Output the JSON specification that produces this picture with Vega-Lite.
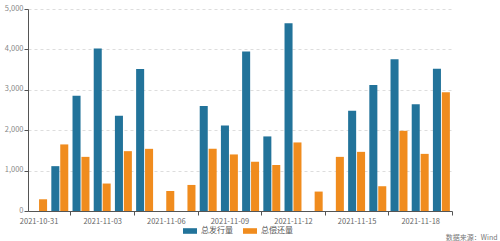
{
  "$schema": "https://vega.github.io/schema/vega-lite/v6.json",
  "autosize": "none",
  "width": 424,
  "height": 202,
  "padding": {"left": 28, "top": 9, "right": 48, "bottom": 30},
  "background": "white",
  "config": {
    "font": "Noto Sans CJK SC",
    "view": {"stroke": null}
  },
  "data": {
    "values": [
      {"date": "2021-10-31", "series": "总偿还量", "value": 290},
      {"date": "2021-11-01", "series": "总发行量", "value": 1110},
      {"date": "2021-11-01", "series": "总偿还量", "value": 1648},
      {"date": "2021-11-02", "series": "总发行量", "value": 2854},
      {"date": "2021-11-02", "series": "总偿还量", "value": 1340},
      {"date": "2021-11-03", "series": "总发行量", "value": 4020},
      {"date": "2021-11-03", "series": "总偿还量", "value": 680},
      {"date": "2021-11-04", "series": "总发行量", "value": 2357},
      {"date": "2021-11-04", "series": "总偿还量", "value": 1481},
      {"date": "2021-11-05", "series": "总发行量", "value": 3516},
      {"date": "2021-11-05", "series": "总偿还量", "value": 1539},
      {"date": "2021-11-06", "series": "总偿还量", "value": 496},
      {"date": "2021-11-07", "series": "总偿还量", "value": 645},
      {"date": "2021-11-08", "series": "总发行量", "value": 2598},
      {"date": "2021-11-08", "series": "总偿还量", "value": 1539},
      {"date": "2021-11-09", "series": "总发行量", "value": 2119},
      {"date": "2021-11-09", "series": "总偿还量", "value": 1400},
      {"date": "2021-11-10", "series": "总发行量", "value": 3946},
      {"date": "2021-11-10", "series": "总偿还量", "value": 1216},
      {"date": "2021-11-11", "series": "总发行量", "value": 1846},
      {"date": "2021-11-11", "series": "总偿还量", "value": 1141},
      {"date": "2021-11-12", "series": "总发行量", "value": 4650},
      {"date": "2021-11-12", "series": "总偿还量", "value": 1697},
      {"date": "2021-11-13", "series": "总偿还量", "value": 481},
      {"date": "2021-11-14", "series": "总偿还量", "value": 1340},
      {"date": "2021-11-15", "series": "总发行量", "value": 2481},
      {"date": "2021-11-15", "series": "总偿还量", "value": 1464},
      {"date": "2021-11-16", "series": "总发行量", "value": 3119},
      {"date": "2021-11-16", "series": "总偿还量", "value": 613},
      {"date": "2021-11-17", "series": "总发行量", "value": 3757},
      {"date": "2021-11-17", "series": "总偿还量", "value": 1985},
      {"date": "2021-11-18", "series": "总发行量", "value": 2640},
      {"date": "2021-11-18", "series": "总偿还量", "value": 1414},
      {"date": "2021-11-19", "series": "总发行量", "value": 3524},
      {"date": "2021-11-19", "series": "总偿还量", "value": 2938}
    ]
  },
  "mark": {"type": "bar"},
  "encoding": {
    "x": {
      "field": "date",
      "type": "nominal",
      "sort": null,
      "scale": {
        "domain": ["2021-10-31","2021-11-01","2021-11-02","2021-11-03","2021-11-04","2021-11-05","2021-11-06","2021-11-07","2021-11-08","2021-11-09","2021-11-10","2021-11-11","2021-11-12","2021-11-13","2021-11-14","2021-11-15","2021-11-16","2021-11-17","2021-11-18","2021-11-19"],
        "paddingInner": 0.2,
        "paddingOuter": 0.1
      },
      "axis": {
        "values": ["2021-10-31","2021-11-03","2021-11-06","2021-11-09","2021-11-12","2021-11-15","2021-11-18"],
        "labelAngle": 0,
        "labelFontSize": 7.5,
        "labelColor": "#666666",
        "labelPadding": 2,
        "tickOffset": 31.8,
        "labelOffset": -31.8,
        "tickSize": 4,
        "tickColor": "#555555",
        "domainColor": "#555555",
        "title": "数据来源：Wind",
        "titleFontSize": 7,
        "titleFontWeight": "normal",
        "titleColor": "#777777",
        "titleAlign": "right",
        "titleAnchor": "end",
        "titleX": 469,
        "titleY": 28,
        "titleBaseline": "alphabetic"
      }
    },
    "xOffset": {
      "field": "series",
      "type": "nominal",
      "scale": {"domain": ["总发行量", "总偿还量"], "paddingInner": 0.1, "paddingOuter": 0}
    },
    "y": {
      "field": "value",
      "type": "quantitative",
      "scale": {"domain": [0, 5000], "nice": false},
      "axis": {
        "values": [0, 1000, 2000, 3000, 4000, 5000],
        "format": ",.0f",
        "title": null,
        "labelFontSize": 7.5,
        "labelColor": "#888888",
        "labelPadding": 1,
        "labelOffset": -1,
        "tickSize": 4,
        "tickColor": "#555555",
        "domainColor": "#555555",
        "gridColor": "#dddddd",
        "gridDash": [3, 3]
      }
    },
    "color": {
      "field": "series",
      "type": "nominal",
      "scale": {"domain": ["总发行量", "总偿还量"], "range": ["#22739a", "#f08c1e"]},
      "legend": {
        "orient": "none",
        "direction": "horizontal",
        "legendX": 155,
        "legendY": 215,
        "title": null,
        "symbolType": "M-1,-0.4H1V0.4H-1Z",
        "symbolSize": 196,
        "symbolStrokeWidth": 0,
        "labelFontSize": 8,
        "labelColor": "#555555",
        "columnPadding": 10
      }
    }
  }
}
